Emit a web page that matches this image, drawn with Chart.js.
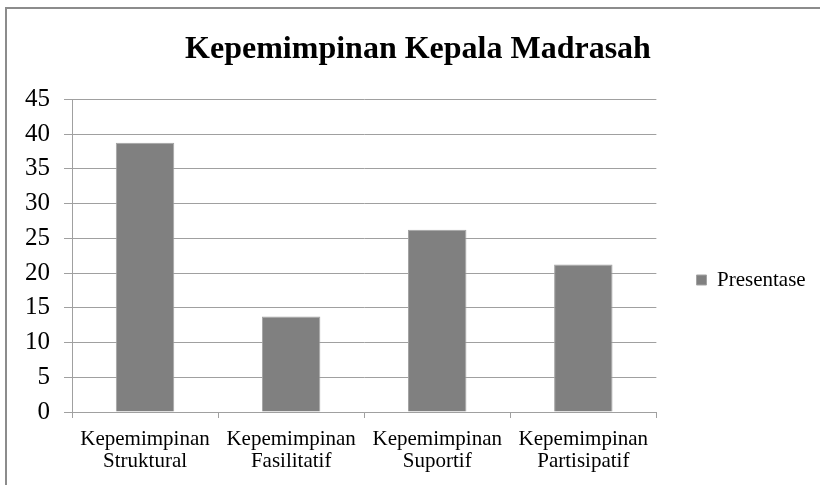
<!DOCTYPE html>
<html>
<head>
<meta charset="utf-8">
<script src="https://cdn.jsdelivr.net/npm/chart.js@4/dist/chart.umd.min.js"></script>
<style>
body { margin: 0; background: #fff; }
#frame { position: absolute; left: 5px; top: 7px; width: 830px; height: 500px;
  border-left: 2px solid #8c8c8c; border-top: 2px solid #8c8c8c; }
#wrap { position: absolute; left: 0; top: 0; width: 820px; height: 485px; }
</style>
</head>
<body>
<div id="frame"></div>
<div id="wrap"><canvas id="myChart"></canvas></div>
<script>
// data
const categories = [
  ['Kepemimpinan', 'Struktural'],
  ['Kepemimpinan', 'Fasilitatif'],
  ['Kepemimpinan', 'Suportif'],
  ['Kepemimpinan', 'Partisipatif']
];
const presentase = [38.75, 13.75, 26.25, 21.25];
const seriesName = 'Presentase';
const chartTitle = 'Kepemimpinan Kepala Madrasah';

const FONT = "'Liberation Serif', 'Times New Roman', serif";
const GRID = '#a0a0a0';

// moves the legend to where the reference has it (right of the plot, a bit below middle)
const legendSpot = {
  id: 'legendSpot',
  afterLayout(chart) {
    const lg = chart.legend;
    if (!lg) return;
    const w = lg.width, h = lg.height;
    lg.left = 652; lg.right = lg.left + w;
    lg.top = 225; lg.bottom = lg.top + h;
  }
};

const data = {
  labels: categories,
  datasets: [{
    label: seriesName,
    data: presentase,
    backgroundColor: '#808080',
    borderColor: '#a3a3a3',
    borderWidth: 1,
    barPercentage: 0.4,
    categoryPercentage: 1
  }]
};

const config = {
  type: 'bar',
  data: data,
  options: {
    responsive: true,
    maintainAspectRatio: false,
    animation: false,
    layout: { padding: { left: 16, right: 0, bottom: 0, top: 0 } },
    plugins: {
      legend: {
        position: 'right',
        align: 'start',
        labels: {
          color: '#000',
          font: { family: FONT, size: 21 },
          boxWidth: 10,
          boxHeight: 10,
          padding: 44.5
        }
      },
      title: {
        display: true,
        text: chartTitle,
        color: '#000',
        font: { family: FONT, size: 32, weight: 'bold' },
        padding: { top: 31, bottom: 30 }
      },
      tooltip: { enabled: false }
    },
    scales: {
      y: {
        min: 0,
        max: 45,
        ticks: { stepSize: 5, color: '#000', font: { family: FONT, size: 25 }, padding: 14 },
        grid: { color: GRID, tickLength: 8 },
        border: { color: GRID },
        afterFit: function (scale) { scale.width = 56; }
      },
      x: {
        ticks: { color: '#000', font: { family: FONT, size: 21, lineHeight: 1.05 }, maxRotation: 0, padding: 10 },
        grid: { drawOnChartArea: false, color: GRID, tickLength: 6 },
        border: { color: GRID },
        afterFit: function (scale) { scale.height = 73; }
      }
    }
  },
  plugins: [legendSpot]
};

var myChart = new Chart(document.getElementById('myChart'), config);
</script>
</body>
</html>
